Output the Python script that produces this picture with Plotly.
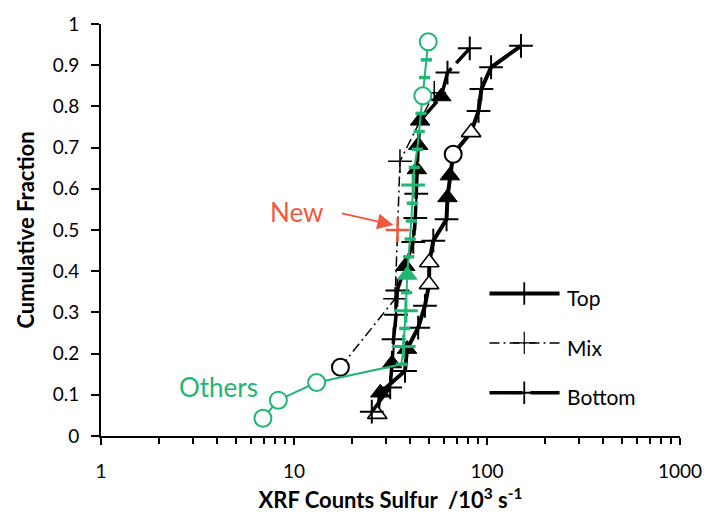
import plotly.graph_objects as go

# ---------------- data ----------------
# "Top" series (thick solid line)
top_x = [27, 28, 37.6, 38.5, 44, 47.7, 50.1, 50.2, 52.7, 61.7, 62.4, 64.2, 66.8, 82.7, 90.4, 93.5, 105, 150]
top_y = [0.053, 0.105, 0.158, 0.211, 0.263, 0.316, 0.368, 0.421, 0.474, 0.526, 0.579, 0.632,
         0.684, 0.737, 0.789, 0.842, 0.895, 0.947]
top_kind = ['otri', 'tri', '+', 'tri', '+', '+', 'otri', 'otri', '+', '+', 'tri', 'tri',
            'circ', 'otri', '+', '+', '+', '+']

# "Bottom" series (thick long-dash line)
bottom_x = [25.3, 31.5, 32.2, 32.8, 33.8, 34.3, 37.7, 41.5, 42.5, 43, 43.3, 44, 45, 58, 62.4, 81.4]
bottom_y = [0.059, 0.118, 0.176, 0.235, 0.294, 0.353, 0.412, 0.471, 0.529, 0.588, 0.647, 0.706,
            0.765, 0.824, 0.882, 0.941]
bottom_kind = ['+', '+', 'tri', '+', '+', '+', 'tri', '+', '+', '+', 'tri', 'tri', 'tri', 'tri', '+', '+']

# "Mix" series (thin dash-dot line)
mix_x = [17.4, 33.4, 34.4, 35.4, 53.3]
mix_y = [0.167, 0.333, 0.5, 0.667, 0.833]
mix_kind = ['circ', '+', 'new', '+', '+']

# green series ("Others" + remaining samples)
green_x = [6.9, 8.3, 13.1, 36.0, 37.0, 37.5, 38.0, 38.3, 38.6, 39.3, 40.0, 40.5, 41.0, 41.4,
           42.0, 43.5, 44.5, 45.5, 46.5, 47.5, 48.5, 49.6]
green_y = [0.043, 0.087, 0.130, 0.174, 0.217, 0.261, 0.304, 0.348, 0.391, 0.435, 0.478, 0.522,
           0.565, 0.609, 0.652, 0.696, 0.739, 0.783, 0.826, 0.870, 0.913, 0.957]
green_kind = ['circ', 'circ', 'circ', 'dash', '+', 'dash', '+', 'dash', 'tri', 'dash', 'dash', 'dash',
              'dash', '+', 'dash', 'dash', 'dash', 'dash', 'circ', 'dash', 'dash', 'circ']

x_ticks = [1, 10, 100, 1000]
x_minor = [2, 3, 4, 5, 6, 7, 8, 9, 20, 30, 40, 50, 60, 70, 80, 90, 200, 300, 400, 500, 600, 700, 800, 900]
legend_names = ['Top', 'Mix', 'Bottom']

# ---------------- styling ----------------
BLACK = 'black'
GREEN = '#22B573'
RED = '#F05A3C'
FONT = 'Lato'


def marker_for(kinds, color, plus_w=2.0):
    sym, size, fill, lcol, lw = [], [], [], [], []
    for k in kinds:
        if k in ('+', 'new'):
            sym.append('cross-thin'); size.append(17); fill.append(color)
            lcol.append(RED if k == 'new' else color); lw.append(2.5 if k == 'new' else plus_w)
        elif k == 'tri':
            sym.append('triangle-up'); size.append(17); fill.append(color); lcol.append(color); lw.append(1)
        elif k == 'otri':
            sym.append('triangle-up'); size.append(17); fill.append('white'); lcol.append(color); lw.append(1.6)
        elif k == 'circ':
            sym.append('circle'); size.append(17); fill.append('white'); lcol.append(color); lw.append(2)
        elif k == 'dash':
            sym.append('line-ew'); size.append(8); fill.append(color); lcol.append(color); lw.append(3.5)
    return dict(symbol=sym, size=size, color=fill, opacity=1, line=dict(color=lcol, width=lw))


fig = go.Figure()

fig.add_trace(go.Scatter(x=top_x, y=top_y, mode='lines+markers', name='Top',
                         line=dict(color=BLACK, width=4), marker=marker_for(top_kind, BLACK)))
fig.add_trace(go.Scatter(x=bottom_x, y=bottom_y, mode='lines+markers', name='Bottom',
                         line=dict(color=BLACK, width=3.5, dash='30px,7px'),
                         marker=marker_for(bottom_kind, BLACK)))
fig.add_trace(go.Scatter(x=mix_x, y=mix_y, mode='lines+markers', name='Mix',
                         line=dict(color=BLACK, width=1.5, dash='10px,4px,2px,4px'),
                         marker=marker_for(mix_kind, BLACK, plus_w=1.5)))
fig.add_trace(go.Scatter(x=green_x, y=green_y, mode='lines+markers', name='Others',
                         line=dict(color=GREEN, width=2), marker=marker_for(green_kind, GREEN, plus_w=3)))

# ---------------- legend drawn on an overlay axis (0..1 over the plot area) ----------------
leg_x = [0.671, 0.731, 0.792]
leg_y = [0.346, 0.226, 0.105]
leg_styles = [dict(width=4), dict(width=1.5, dash='10px,4px,2px,4px'), dict(width=3.5, dash='33px,8px')]
for name, yy, st in zip(legend_names, leg_y, leg_styles):
    fig.add_trace(go.Scatter(x=leg_x, y=[yy] * 3, xaxis='x2', yaxis='y2', mode='lines+markers',
                             line=dict(color=BLACK, **st),
                             marker=dict(symbol=['line-ew', 'cross-thin', 'line-ew'], size=[0, 16, 0],
                                         color=BLACK, opacity=1,
                                         line=dict(color=BLACK, width=1.8 if name != 'Mix' else 1.2)),
                             showlegend=False, hoverinfo='skip'))
    fig.add_annotation(x=0.802, y=yy - 0.01, xref='paper', yref='paper', text=name, showarrow=False,
                       xanchor='left', yanchor='middle', font=dict(family=FONT, size=21, color=BLACK))

# text labels
fig.add_annotation(x=0.337, y=0.543, xref='paper', yref='paper', text='New', showarrow=False,
                   font=dict(family=FONT, size=26, color=RED))
fig.add_annotation(x=0.132, y=0.076, xref='paper', yref='paper', text='Others', showarrow=False,
                   font=dict(family=FONT, size=26, color=GREEN))
fig.add_annotation(x=0.505, y=0.512, xref='paper', yref='paper', text='', showarrow=True,
                   ax=-53, ay=-12, arrowcolor=RED, arrowwidth=2, arrowhead=2, arrowsize=1.6)

fig.update_layout(
    width=714, height=527,
    margin=dict(l=101, r=31, t=16, b=91),
    plot_bgcolor='white', paper_bgcolor='white',
    showlegend=False,
    font=dict(family=FONT, color=BLACK),
    xaxis=dict(type='log', range=[0, 3], showline=True, linecolor=BLACK, linewidth=2,
               ticks='outside', ticklen=7, tickwidth=1.5, tickcolor=BLACK,
               tickvals=x_ticks, ticktext=[str(v) for v in x_ticks],
               minor=dict(tickvals=x_minor, ticks='outside', ticklen=6, tickwidth=1.5, tickcolor=BLACK,
                          showgrid=False),
               tickfont=dict(family=FONT, size=19), ticklabelstandoff=10,
               showgrid=False, zeroline=False,
               title=dict(text='XRF Counts Sulfur \u00a0/10<sup>3</sup> s<sup>-1</sup>',
                          font=dict(family=FONT, size=22, weight='bold'), standoff=12)),
    yaxis=dict(range=[0, 1], tick0=0, dtick=0.1, showline=True, linecolor=BLACK, linewidth=2,
               ticks='outside', ticklen=8, tickwidth=1.5, tickcolor=BLACK,
               tickfont=dict(family=FONT, size=19), ticklabelstandoff=8,
               showgrid=False, zeroline=False,
               title=dict(text='Cumulative Fraction', font=dict(family=FONT, size=22, weight='bold'),
                          standoff=12)),
    xaxis2=dict(overlaying='x', range=[0, 1], visible=False, anchor='y2'),
    yaxis2=dict(overlaying='y', range=[0, 1], visible=False, anchor='x2'),
)

fig.write_html('out.html')
